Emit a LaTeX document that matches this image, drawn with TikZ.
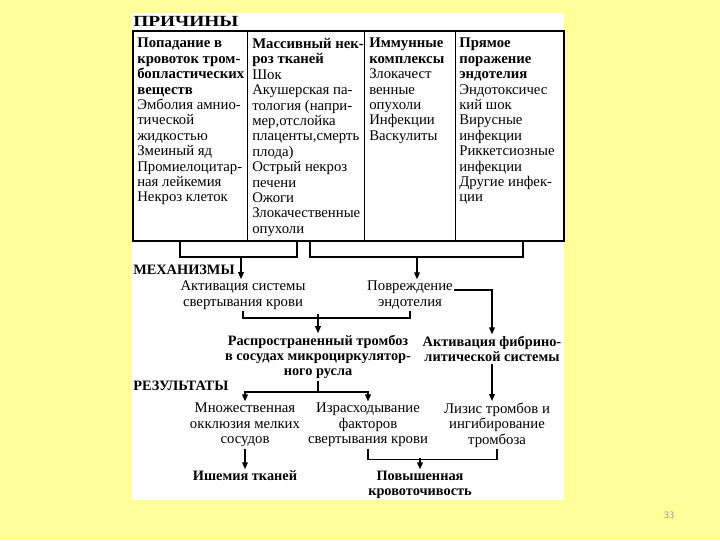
\documentclass[tikz,border=0pt]{standalone}
\usepackage{fontspec}
\setmainfont{Liberation Serif}
\newfontfamily\headfont{Liberation Serif}[FakeStretch=1.25]
\usetikzlibrary{arrows.meta, positioning, calc}
\definecolor{pageyellow}{RGB}{255,255,153}

\begin{document}
\begin{tikzpicture}[x=0.025cm, y=-0.025cm,
  heading/.style={anchor=west,inner sep=0pt,font=\bfseries\fontsize{10.2}{12}\selectfont},
  topheading/.style={heading,font=\headfont\bfseries\fontsize{11}{12}\selectfont},
  cell/.style={anchor=north west,align=left,inner sep=0pt,font=\fontsize{10.5}{10.95}\selectfont},
  mech/.style={align=center,inner sep=1pt,font=\fontsize{10.5}{10.95}\selectfont},
  bmech/.style={mech,font=\bfseries\fontsize{10.2}{10.95}\selectfont},
  link/.style={line width=1.1pt},
  arrow/.style={link,-{Triangle[length=5pt,width=4pt]}}]
  % page and panel
  \useasboundingbox[fill=pageyellow] (0,0) rectangle (720,540);
  \fill[white] (131,13) rectangle (564,500);
  \node[text=gray!80,font=\sffamily\fontsize{7}{8}\selectfont] (page) at (669,515) {33};
  % causes table
  \node[topheading] (causes) at (133,21) {ПРИЧИНЫ};
  \draw[line width=1.4pt] (133,31) rectangle (564,241);
  \foreach \x in {247,364,455}
    \draw[line width=0.7pt] (\x,31) -- (\x,241);
  \node[cell] (c1) at (137,38) {\textbf{Попадание в}\\\textbf{кровоток тром-}\\\textbf{бопластических}\\\textbf{веществ}\\Эмболия амнио-\\тической\\жидкостью\\Змеиный яд\\Промиелоцитар-\\ная лейкемия\\Некроз клеток};
  \node[cell] (c2) at (252,38) {\textbf{Массивный нек-}\\\textbf{роз тканей}\\Шок\\Акушерская па-\\тология (напри-\\мер,отслойка\\плаценты,смерть\\плода)\\Острый некроз\\печени\\Ожоги\\Злокачественные\\опухоли};
  \node[cell] (c3) at (369,38) {\textbf{Иммунные}\\\textbf{комплексы}\\Злокачест\\венные\\опухоли\\Инфекции\\Васкулиты};
  \node[cell] (c4) at (459,38) {\textbf{Прямое}\\\textbf{поражение}\\\textbf{эндотелия}\\Эндотоксичес\\кий шок\\Вирусные\\инфекции\\Риккетсиозные\\инфекции\\Другие инфек-\\ции};
  % mechanisms
  \node[heading] (mechs) at (133,270) {МЕХАНИЗМЫ};
  \node[mech] (coag) at (243,295) {Активация системы\\свертывания крови};
  \node[mech] (endo) at (410,295) {Повреждение\\эндотелия};
  \node[bmech] (thromb) at (318,357) {Распространенный тромбоз\\в сосудах микроциркулятор-\\ного русла};
  \node[bmech] (fibr) at (492,349) {Активация фибрино-\\литической системы};
  % results
  \node[heading] (results) at (133,386) {РЕЗУЛЬТАТЫ};
  \node[mech] (occl) at (245,425) {Множественная\\окклюзия мелких\\сосудов};
  \node[mech] (consum) at (368,425) {Израсходывание\\факторов\\свертывания крови};
  \node[mech] (lysis) at (497,425) {Лизис тромбов и\\ингибирование\\тромбоза};
  \node[bmech] (isch) at (245,476) {Ишемия тканей};
  \node[bmech] (bleed) at (420,485) {Повышенная\\кровоточивость};
  % brackets under the table
  \coordinate (b1) at (180,241);
  \coordinate (b2) at (297,241);
  \coordinate (b3) at (310,241);
  \coordinate (b4) at (523,241);
  \coordinate (m1) at (241,257);
  \coordinate (m2) at (417,257);
  \draw[link,line width=1.4pt] (b1) -- ++(0,16) -| (b2);
  \draw[link,line width=1.4pt] (b3) -- ++(0,16) -| (b4);
  \draw[arrow] (m1) -- (m1 |- coag.north);
  \draw[arrow] (m2) -- (m2 |- endo.north);
  % mechanisms to thrombosis
  \coordinate (j1) at (318,314);
  \draw[link] (coag.south) -- ++(0,7) -| (endo.south);
  \draw[arrow] (j1) -- (thromb.north);
  \draw[arrow] ([yshift=1.2mm]endo.east) -| (fibr.north);
  % thrombosis to results
  \coordinate (j2) at (318,392);
  \draw[link] (thromb.south) -- (j2);
  \draw[arrow] (j2) -| (occl.north);
  \draw[arrow] (j2) -| (consum.north);
  \draw[arrow] (fibr.south) -- (fibr.south |- lysis.north);
  \draw[arrow] (occl.south) -- (isch.north);
  \coordinate (j3) at (420,458);
  \draw[link] (consum.south) -- ++(0,11) -| (lysis.south);
  \draw[arrow] (j3) -- (bleed.north);
\end{tikzpicture}
\end{document}
